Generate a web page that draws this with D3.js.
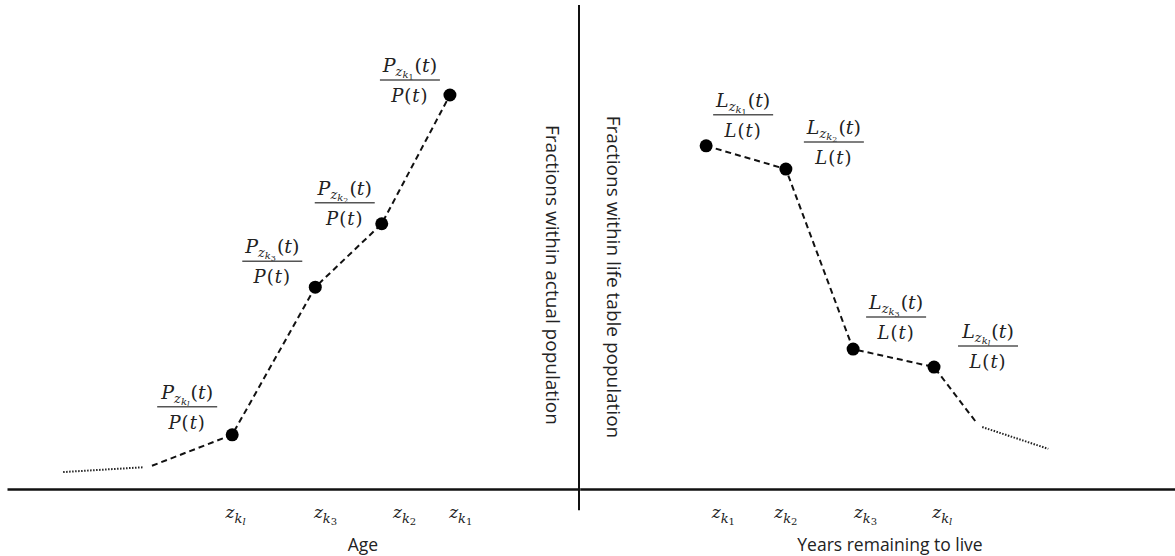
<!DOCTYPE html>
<html>
<head>
<meta charset="utf-8">
<script src="https://cdn.jsdelivr.net/npm/d3@7"></script>
<style>
  body { margin: 0; background: #fff; }
  .axis-title { font-family: "Open Sans", sans-serif; font-size: 17.5px; fill: #222; }
  .side-title { font-family: "Open Sans", sans-serif; font-size: 19px; fill: #222; }
  .math { font-family: "DejaVu Serif", serif; fill: #222; }
</style>
</head>
<body>
<div class="viz"></div>
<script>
// Left panel: age groups, fraction within actual population
const ageKeys = ["l", "3", "2", "1"];
const ageValues = [39.3, 53.8, 65.4, 77.3];
const ageFractions = [0.112, 0.417, 0.548, 0.814];
const ageTicks = [39.8, 55.5, 69.3, 79.1];
// tail of the age curve: dotted part, then dashed lead-in
const ageTailDotted = [[9.8, 0.035], [23.9, 0.045]];
const ageTailDashed = [[25.3, 0.048]];

// Right panel: years remaining, fraction within life table population
const yrsKeys = ["1", "2", "3", "l"];
const yrsValues = [21.2, 34.6, 45.9, 59.5];
const yrsFractions = [0.709, 0.661, 0.289, 0.252];
const yrsTicks = [24.0, 34.5, 47.9, 60.8];
const yrsTailDashed = [[66.7, 0.136]];
const yrsTailDotted = [[67.6, 0.128], [78.7, 0.083]];

const totalWidth = 1175;
const totalHeight = 556;

const svg = d3
  .select(".viz")
  .append("svg")
  .attr("width", totalWidth)
  .attr("height", totalHeight);

// Scales
const xAge = d3.scaleLinear().domain([0, 100]).range([7, 580]);
const xYrs = d3.scaleLinear().domain([0, 100]).range([580, 1175]);
const yFrac = d3.scaleLinear().domain([0, 1]).range([489, 5]);

const line = (xs) =>
  d3
    .line()
    .x((d) => xs(d[0]))
    .y((d) => yFrac(d[1]));

// Label offsets relative to each point (layout only)
const ageLabelOffsets = [[-45, -28], [-43, -26], [-37, -21], [-40, -15]];
const yrsLabelOffsets = [[37, -31], [48, -27], [43, -32], [54, -21]];

// Subscripted math text, e.g. P_{z_{k_1}}(t)
function numerator(g, cx, y, letter, key) {
  const t = g
    .append("text")
    .attr("class", "math")
    .attr("x", cx)
    .attr("y", y)
    .attr("text-anchor", "middle")
    .style("font-size", "19px");
  t.append("tspan").style("font-style", "italic").text(letter);
  t.append("tspan").attr("dy", 4).style("font-size", "13px").style("font-style", "italic").text("z");
  t.append("tspan").attr("dy", 2).style("font-size", "10px").style("font-style", "italic").text("k");
  t.append("tspan")
    .attr("dy", 2)
    .style("font-size", "8px")
    .style("font-style", key === "l" ? "italic" : "normal")
    .text(key);
  t.append("tspan").attr("dy", -8).attr("dx", 1).text("(");
  t.append("tspan").style("font-style", "italic").text("t");
  t.append("tspan").text(")");
}

function denominator(g, cx, y, letter) {
  const t = g
    .append("text")
    .attr("class", "math")
    .attr("x", cx)
    .attr("y", y)
    .attr("text-anchor", "middle")
    .style("font-size", "18px")
    .style("letter-spacing", "1px");
  t.append("tspan").style("font-style", "italic").text(letter);
  t.append("tspan").text("(");
  t.append("tspan").style("font-style", "italic").text("t");
  t.append("tspan").text(")");
}

function fraction(g, cx, barY, letter, key) {
  numerator(g, cx, barY - 8, letter, key);
  g.append("line")
    .attr("x1", cx - 30)
    .attr("x2", cx + 30)
    .attr("y1", barY)
    .attr("y2", barY)
    .attr("stroke", "#555")
    .attr("stroke-width", 1.5);
  denominator(g, cx, barY + 22, letter);
}

function tickLabel(sel, key) {
  sel.text("");
  sel.append("tspan").style("font-style", "italic").text("z");
  sel.append("tspan").attr("dy", 5).style("font-size", "13px").style("font-style", "italic").text("k");
  sel.append("tspan")
    .attr("dy", 2)
    .style("font-size", "10px")
    .style("font-style", key === "l" ? "italic" : "normal")
    .text(key);
}

// Axes (no tick marks, custom subscripted labels)
function drawAxis(scale, ticks, keys) {
  const ax = svg
    .append("g")
    .attr("transform", `translate(0, ${yFrac(0)})`)
    .call(
      d3.axisBottom(scale).tickValues(ticks).tickSize(0).tickSizeOuter(0).tickFormat("")
    );
  ax.select(".domain").attr("stroke", "#111").attr("stroke-width", 2.5);
  ax.selectAll(".tick text")
    .attr("class", "math")
    .attr("y", 29)
    .attr("dy", 0)
    .style("font-size", "17px")
    .style("font-family", "DejaVu Serif, serif")
    .each(function (d, i) {
      tickLabel(d3.select(this), keys[i]);
    });
}

drawAxis(xAge, ageTicks, ageKeys);
drawAxis(xYrs, yrsTicks, yrsKeys);

// Vertical divider axis
svg
  .append("line")
  .attr("x1", xAge(100) - 1)
  .attr("x2", xAge(100) - 1)
  .attr("y1", yFrac(1))
  .attr("y2", yFrac(-0.044))
  .attr("stroke", "#111")
  .attr("stroke-width", 2);

// Vertical axis titles
svg
  .append("text")
  .attr("class", "side-title")
  .attr("transform", `translate(553, 275) rotate(90)`)
  .attr("text-anchor", "middle")
  .attr("dominant-baseline", "central")
  .text("Fractions within actual population");

svg
  .append("text")
  .attr("class", "side-title")
  .attr("transform", `translate(614, 277) rotate(90)`)
  .attr("text-anchor", "middle")
  .attr("dominant-baseline", "central")
  .text("Fractions within life table population");

// Horizontal axis titles
svg
  .append("text")
  .attr("class", "axis-title")
  .attr("x", 363)
  .attr("y", 551)
  .attr("text-anchor", "middle")
  .text("Age");

svg
  .append("text")
  .attr("class", "axis-title")
  .attr("x", 890)
  .attr("y", 551)
  .attr("text-anchor", "middle")
  .text("Years remaining to live");

// Curves
const agePts = ageValues.map((v, i) => [v, ageFractions[i]]);
const yrsPts = yrsValues.map((v, i) => [v, yrsFractions[i]]);

const dashStyle = (p) =>
  p.attr("fill", "none").attr("stroke", "#111").attr("stroke-width", 2).attr("stroke-dasharray", "6,4");
const dotStyle = (p) =>
  p.attr("fill", "none").attr("stroke", "#222").attr("stroke-width", 2).attr("stroke-dasharray", "1.5,1.5");

svg.append("path").attr("d", line(xAge)(ageTailDotted)).call(dotStyle);
svg.append("path").attr("d", line(xAge)(ageTailDashed.concat(agePts))).call(dashStyle);
svg.append("path").attr("d", line(xYrs)(yrsPts.concat(yrsTailDashed))).call(dashStyle);
svg.append("path").attr("d", line(xYrs)(yrsTailDotted)).call(dotStyle);

// Points
svg
  .selectAll(".age-point")
  .data(agePts)
  .enter()
  .append("circle")
  .attr("cx", (d) => xAge(d[0]))
  .attr("cy", (d) => yFrac(d[1]))
  .attr("r", 6.5)
  .attr("fill", "#000");

svg
  .selectAll(".yrs-point")
  .data(yrsPts)
  .enter()
  .append("circle")
  .attr("cx", (d) => xYrs(d[0]))
  .attr("cy", (d) => yFrac(d[1]))
  .attr("r", 6.5)
  .attr("fill", "#000");

// Fraction labels
const labels = svg.append("g");
agePts.forEach((d, i) => {
  const [dx, dy] = ageLabelOffsets[i];
  fraction(labels, xAge(d[0]) + dx, yFrac(d[1]) + dy, "P", ageKeys[i]);
});
yrsPts.forEach((d, i) => {
  const [dx, dy] = yrsLabelOffsets[i];
  fraction(labels, xYrs(d[0]) + dx, yFrac(d[1]) + dy, "L", yrsKeys[i]);
});
</script>
</body>
</html>
